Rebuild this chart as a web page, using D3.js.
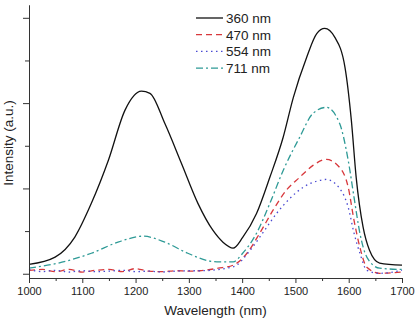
<!DOCTYPE html>
<html>
<head>
<meta charset="utf-8">
<script src="https://cdn.jsdelivr.net/npm/d3@7"></script>
<style>
  body { margin: 0; background: #fff; }
  text { font-family: "Liberation Sans", Arial, sans-serif; fill: #222; }
</style>
</head>
<body>
<div id="chart"></div>
<script>
// values (wavelength in nm, intensity in arbitrary units)
const wl360 = [1000, 1049, 1086, 1117, 1149, 1180, 1211, 1227, 1255, 1286, 1317, 1345, 1364, 1383, 1401, 1427, 1452, 1477, 1496, 1521, 1540, 1555, 1574, 1593, 1605, 1614, 1627, 1639, 1658, 1700];
const int360 = [0.22, 0.39, 0.86, 1.65, 2.66, 3.83, 4.28, 4.23, 3.52, 2.59, 1.65, 1.02, 0.74, 0.6, 0.85, 1.41, 2.26, 3.2, 4.13, 5.07, 5.63, 5.75, 5.54, 4.84, 3.59, 2.26, 1.09, 0.55, 0.25, 0.2];

const wl470 = [1000, 1025, 1050, 1075, 1100, 1125, 1150, 1175, 1200, 1225, 1250, 1275, 1300, 1320, 1355, 1383, 1409, 1433, 1458, 1483, 1508, 1533, 1558, 1583, 1599, 1610, 1621, 1634, 1658, 1700];
const int470 = [0.08, 0.1, 0.05, 0.1, 0.04, 0.08, 0.1, 0.05, 0.12, 0.06, 0.05, 0.07, 0.06, 0.07, 0.13, 0.2, 0.48, 0.95, 1.49, 1.96, 2.26, 2.54, 2.68, 2.49, 2.03, 1.25, 0.62, 0.15, 0.01, 0.04];

const wl554 = [1000, 1025, 1050, 1075, 1100, 1125, 1150, 1175, 1200, 1225, 1250, 1275, 1300, 1320, 1383, 1415, 1440, 1465, 1490, 1515, 1540, 1558, 1583, 1599, 1610, 1621, 1634, 1658, 1700];
const int554 = [0.1, 0.05, 0.08, 0.04, 0.07, 0.05, 0.06, 0.08, 0.05, 0.06, 0.04, 0.06, 0.07, 0.07, 0.16, 0.55, 0.98, 1.42, 1.77, 2.03, 2.17, 2.21, 2.0, 1.56, 0.95, 0.48, 0.08, 0.01, 0.08];

const wl711 = [1000, 1055, 1117, 1167, 1214, 1255, 1298, 1343, 1358, 1383, 1401, 1427, 1452, 1477, 1508, 1533, 1558, 1583, 1599, 1610, 1621, 1634, 1658, 1700];
const int711 = [0.13, 0.25, 0.48, 0.74, 0.88, 0.74, 0.48, 0.29, 0.28, 0.28, 0.48, 0.95, 1.65, 2.42, 3.2, 3.76, 3.9, 3.52, 2.66, 1.79, 0.95, 0.39, 0.13, 0.1];

const seriesNames = ["360 nm", "470 nm", "554 nm", "711 nm"];
const xTicks = [1000, 1100, 1200, 1300, 1400, 1500, 1600, 1700];

const series = [
  {name: seriesNames[0], x: wl360, y: int360, color: "#111111", dash: null},
  {name: seriesNames[1], x: wl470, y: int470, color: "#d8383c", dash: "6,4"},
  {name: seriesNames[2], x: wl554, y: int554, color: "#4a4ad2", dash: "1.5,3.5"},
  {name: seriesNames[3], x: wl711, y: int711, color: "#2e9a96", dash: "7,3,2,3"}
];

const WIDTH = 418, HEIGHT = 321;
const MARGINS = {left: 29, right: 16, top: 5, bottom: 43};

const xScale = d3.scaleLinear()
  .domain([1000, 1700])
  .range([MARGINS.left, WIDTH - MARGINS.right]);

const yScale = d3.scaleLinear()
  .domain([-0.1, 6.3])
  .range([HEIGHT - MARGINS.bottom, MARGINS.top]);

const svg = d3.select("#chart")
  .append("svg")
    .attr("width", WIDTH)
    .attr("height", HEIGHT);

// curves
const line = d3.line()
  .x(d => xScale(d[0]))
  .y(d => yScale(d[1]))
  .curve(d3.curveMonotoneX);

series.forEach(s => {
  svg.append("path")
    .datum(s.x.map((v, i) => [v, s.y[i]]))
    .attr("d", line)
    .attr("fill", "none")
    .attr("stroke", s.color)
    .attr("stroke-width", 1.3)
    .attr("stroke-dasharray", s.dash);
});

// x axis: major ticks every 100 with labels, minor at 50
const xAxis = svg.append("g")
  .attr("transform", "translate(0," + (HEIGHT - MARGINS.bottom) + ")");
xAxis.call(d3.axisBottom(xScale).tickValues(d3.range(1050, 1700, 100)).tickSize(3).tickFormat(""));
xAxis.append("g").call(d3.axisBottom(xScale).tickValues(xTicks).tickSize(5).tickPadding(4).tickFormat(d3.format("d")));
xAxis.selectAll("path").attr("stroke", "#333");
xAxis.selectAll("line").attr("stroke", "#333");
xAxis.selectAll("text")
  .attr("font-size", "11px")
  .attr("font-family", "Liberation Sans, Arial, sans-serif")
  .attr("fill", "#222");

// y axis: no labels, long ticks on even values
const yAxis = svg.append("g")
  .attr("transform", "translate(" + MARGINS.left + ",0)");
yAxis.call(d3.axisLeft(yScale).tickValues([1, 3, 5]).tickSize(4).tickFormat("").tickSizeOuter(0));
yAxis.append("g").call(d3.axisLeft(yScale).tickValues([0, 2, 4, 6]).tickSize(6).tickFormat("").tickSizeOuter(0));
yAxis.selectAll("path").attr("stroke", "#333");
yAxis.selectAll("line").attr("stroke", "#333");

// axis titles
svg.append("text")
  .attr("x", (xScale(1000) + xScale(1700)) / 2)
  .attr("y", 315)
  .attr("text-anchor", "middle")
  .attr("font-size", "13.5px")
  .text("Wavelength (nm)");

svg.append("text")
  .attr("transform", "translate(13,143) rotate(-90)")
  .attr("text-anchor", "middle")
  .attr("font-size", "13.5px")
  .text("Intensity (a.u.)");

// legend
const legend = svg.append("g");
series.forEach((s, i) => {
  const y = 18 + i * 16.7;
  legend.append("line")
    .attr("x1", 196).attr("x2", 223)
    .attr("y1", y).attr("y2", y)
    .attr("stroke", s.color)
    .attr("stroke-width", 1.3)
    .attr("stroke-dasharray", s.dash);
  legend.append("text")
    .attr("x", 226)
    .attr("y", y + 5)
    .attr("font-size", "13.5px")
    .text(s.name);
});
</script>
</body>
</html>
